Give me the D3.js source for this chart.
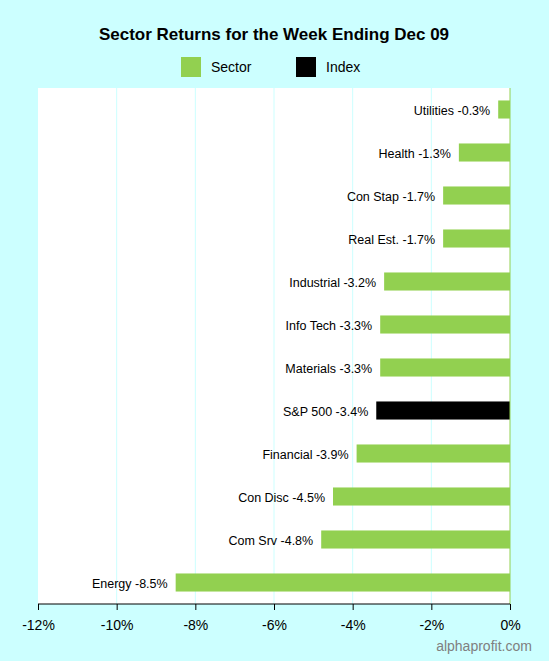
<!DOCTYPE html>
<html><head><meta charset="utf-8">
<script src="https://cdn.jsdelivr.net/npm/d3@7"></script>
<style>body{margin:0;background:#ccffff;}svg{display:block;font-family:Arial,"Liberation Sans",sans-serif;}</style>
</head><body>
<svg width="549" height="661"></svg>
<script>
const labels = ["Utilities", "Health", "Con Stap", "Real Est.", "Industrial", "Info Tech", "Materials", "S&P 500", "Financial", "Con Disc", "Com Srv", "Energy"];
const values = [-0.3, -1.3, -1.7, -1.7, -3.2, -3.3, -3.3, -3.4, -3.9, -4.5, -4.8, -8.5];
const isIndex = [0, 0, 0, 0, 0, 0, 0, 1, 0, 0, 0, 0];
const ticks = [-12, -10, -8, -6, -4, -2, 0];

const svg = d3.select("svg");
const plotLeft = 38, plotRight = 510, plotTop = 88, plotBottom = 604;

const x = d3.scaleLinear().domain([-12, 0]).range([plotLeft, plotRight]);
const y = d3.scaleBand().domain(labels).range([plotTop, plotBottom]).paddingInner(0.58).paddingOuter(0.29);

svg.append("rect").attr("x", plotLeft).attr("y", plotTop).attr("width", plotRight - plotLeft).attr("height", plotBottom - plotTop).attr("fill", "#fff");

svg.selectAll("line.grid").data(ticks.slice(1, -1)).enter().append("line")
  .attr("x1", d => x(d)).attr("x2", d => x(d)).attr("y1", plotTop).attr("y2", plotBottom)
  .attr("stroke", "#ccffff").attr("stroke-width", 1);

svg.selectAll("rect.bar").data(labels).enter().append("rect")
  .attr("x", (d, i) => x(values[i])).attr("y", d => y(d))
  .attr("width", (d, i) => x(0) - x(values[i])).attr("height", y.bandwidth())
  .attr("fill", (d, i) => isIndex[i] ? "#000" : "#92d050");

svg.selectAll("text.lab").data(labels).enter().append("text")
  .attr("x", (d, i) => x(values[i]) - 8).attr("y", d => y(d) + y.bandwidth() / 2 + 5)
  .attr("text-anchor", "end").attr("font-size", 12.5)
  .text((d, i) => d + " " + values[i].toFixed(1) + "%");

svg.append("line").attr("x1", x(0)).attr("x2", x(0)).attr("y1", plotTop).attr("y2", plotBottom).attr("stroke", "#92d050");

const ax = svg.append("g").attr("transform", "translate(0," + plotBottom + ")")
  .call(d3.axisBottom(x).tickValues(ticks).tickSize(6).tickFormat(d => d + "%"));
ax.selectAll("text").attr("font-size", 14).attr("fill", "#000").attr("dy", "1.2em");
ax.selectAll("line,path").attr("stroke", "#000");
ax.select("path").attr("d", "M" + plotLeft + ",0H" + plotRight);

svg.append("text").attr("x", 274).attr("y", 40).attr("text-anchor", "middle")
  .attr("font-size", 17).attr("font-weight", "bold").text("Sector Returns for the Week Ending Dec 09");

const legend = [["Sector", "#92d050", 181], ["Index", "#000", 296]];
legend.forEach(l => {
  svg.append("rect").attr("x", l[2]).attr("y", 57).attr("width", 20).attr("height", 20).attr("fill", l[1]);
  svg.append("text").attr("x", l[2] + 30).attr("y", 72).attr("font-size", 14).text(l[0]);
});

svg.append("text").attr("x", 484).attr("y", 651).attr("text-anchor", "middle")
  .attr("font-size", 14).attr("fill", "#808080").text("alphaprofit.com");
</script>
</body></html>
